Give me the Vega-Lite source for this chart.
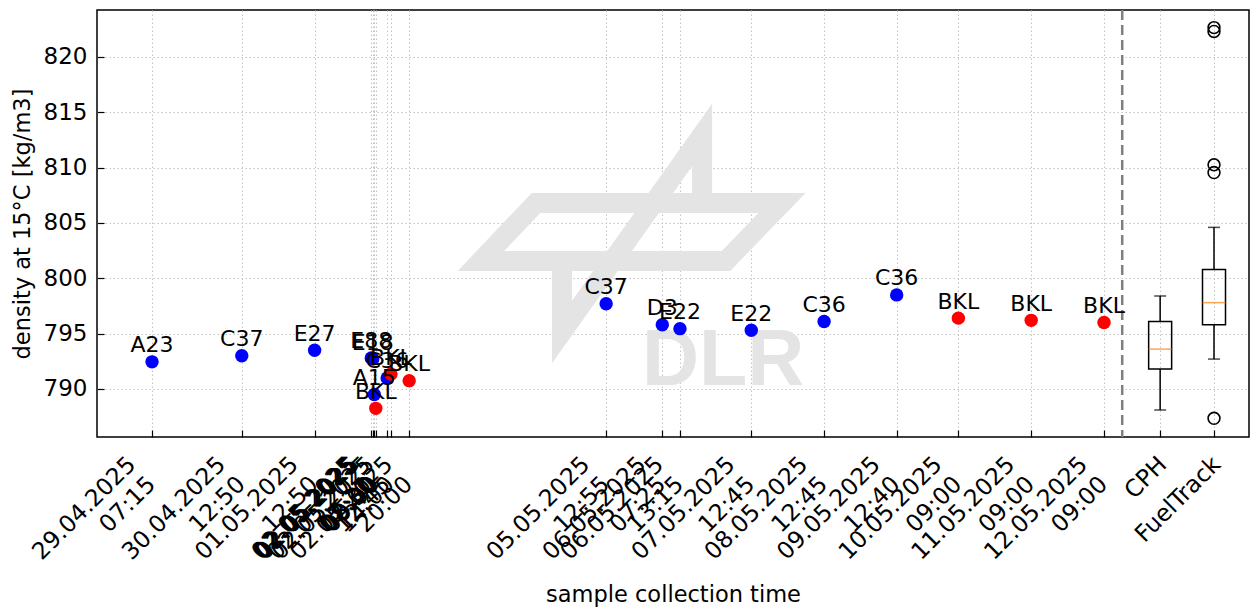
{
  "$schema": "https://vega.github.io/schema/vega-lite/v6.json",
  "width": 1152,
  "height": 427,
  "autosize": {"type": "none"},
  "padding": {"left": 97, "top": 10, "right": 1, "bottom": 171},
  "background": "white",
  "config": {
    "font": "DejaVu Sans",
    "view": {"stroke": "black", "strokeWidth": 1.5},
    "axis": {
      "domain": false,
      "grid": true,
      "gridColor": "#c4c4c4",
      "gridDash": [1.5, 2.5],
      "gridWidth": 1,
      "tickColor": "black",
      "tickWidth": 1.2,
      "tickSize": -7,
      "labelColor": "black",
      "labelFont": "DejaVu Sans",
      "labelFontSize": 23,
      "titleColor": "black",
      "titleFont": "DejaVu Sans",
      "titleFontSize": 22.5,
      "titleFontWeight": "normal",
      "labelOverlap": false,
      "labelFlush": false,
      "labelBound": false,
      "zindex": 1
    }
  },
  "datasets": {
    "samples": [
      {"time": "2025-04-29T07:15:00Z", "density": 792.45, "sample": "A23", "source": "aircraft"},
      {"time": "2025-04-30T12:50:00Z", "density": 793.0, "sample": "C37", "source": "aircraft"},
      {"time": "2025-05-01T12:50:00Z", "density": 793.5, "sample": "E27", "source": "aircraft"},
      {"time": "2025-05-02T07:30:00Z", "density": 792.8, "sample": "E88", "source": "aircraft"},
      {"time": "2025-05-02T08:00:00Z", "density": 792.7, "sample": "E18", "source": "aircraft"},
      {"time": "2025-05-02T08:30:00Z", "density": 789.5, "sample": "A15", "source": "aircraft"},
      {"time": "2025-05-02T09:00:00Z", "density": 788.25, "sample": "BKL", "source": "bulk"},
      {"time": "2025-05-02T12:45:00Z", "density": 791.0, "sample": "C36", "source": "aircraft"},
      {"time": "2025-05-02T14:00:00Z", "density": 791.35, "sample": "BKL", "source": "bulk"},
      {"time": "2025-05-02T20:00:00Z", "density": 790.75, "sample": "BKL", "source": "bulk"},
      {"time": "2025-05-05T12:55:00Z", "density": 797.7, "sample": "C37", "source": "aircraft"},
      {"time": "2025-05-06T07:25:00Z", "density": 795.8, "sample": "D3", "source": "aircraft"},
      {"time": "2025-05-06T13:15:00Z", "density": 795.45, "sample": "E22", "source": "aircraft"},
      {"time": "2025-05-07T12:45:00Z", "density": 795.3, "sample": "E22", "source": "aircraft"},
      {"time": "2025-05-08T12:45:00Z", "density": 796.1, "sample": "C36", "source": "aircraft"},
      {"time": "2025-05-09T12:40:00Z", "density": 798.5, "sample": "C36", "source": "aircraft"},
      {"time": "2025-05-10T09:00:00Z", "density": 796.4, "sample": "BKL", "source": "bulk"},
      {"time": "2025-05-11T09:00:00Z", "density": 796.2, "sample": "BKL", "source": "bulk"},
      {"time": "2025-05-12T09:00:00Z", "density": 796.0, "sample": "BKL", "source": "bulk"}
    ],
    "boxes": [
      {"group": "CPH", "time": "2025-05-13T03:30:00Z", "lower": 788.1, "q1": 791.8, "median": 793.6, "q3": 796.1, "upper": 798.4},
      {"group": "FuelTrack", "time": "2025-05-13T21:15:00Z", "lower": 792.7, "q1": 795.8, "median": 797.8, "q3": 800.8, "upper": 804.6}
    ],
    "outliers": [
      {"group": "FuelTrack", "time": "2025-05-13T21:15:00Z", "density": 787.35},
      {"group": "FuelTrack", "time": "2025-05-13T21:15:00Z", "density": 809.55},
      {"group": "FuelTrack", "time": "2025-05-13T21:15:00Z", "density": 810.25},
      {"group": "FuelTrack", "time": "2025-05-13T21:15:00Z", "density": 822.3},
      {"group": "FuelTrack", "time": "2025-05-13T21:15:00Z", "density": 822.65}
    ],
    "logo": [
      {"part": "band", "step": 1, "time": "2025-05-03T19:41:00Z", "density": 801.57},
      {"part": "band", "step": 2, "time": "2025-05-04T13:49:00Z", "density": 806.81},
      {"part": "band", "step": 3, "time": "2025-05-07T22:54:00Z", "density": 806.81},
      {"part": "band", "step": 4, "time": "2025-05-07T04:26:00Z", "density": 801.57},
      {"part": "band", "step": 5, "time": "2025-05-03T19:41:00Z", "density": 801.57},
      {"part": "band", "step": 6, "time": "2025-05-04T13:49:00Z", "density": 806.81},
      {"part": "wing", "step": 1, "time": "2025-05-06T20:32:00Z", "density": 806.81},
      {"part": "wing", "step": 2, "time": "2025-05-06T20:32:00Z", "density": 812.95},
      {"part": "wing", "step": 3, "time": "2025-05-04T22:23:00Z", "density": 795.15},
      {"part": "wing", "step": 4, "time": "2025-05-04T22:23:00Z", "density": 801.57}
    ],
    "watermark": [
      {"word": "DLR", "time": "2025-05-07T03:27:00Z", "density": 790.36}
    ],
    "divider": [
      {"time": "2025-05-12T15:00:00Z"}
    ]
  },
  "layer": [
    {
      "data": {"name": "logo"},
      "mark": {"type": "line", "color": "#e4e4e4", "strokeWidth": 20, "strokeJoin": "miter", "strokeMiterLimit": 10, "strokeCap": "butt"},
      "encoding": {
        "x": {
          "field": "time",
          "type": "temporal",
          "scale": {
            "type": "utc",
            "nice": false,
            "padding": 0,
            "domain": [
              {"year": 2025, "month": 4, "date": 28, "hours": 13, "minutes": 7, "utc": true},
              {"year": 2025, "month": 5, "date": 14, "hours": 8, "minutes": 47, "utc": true}
            ]
          },
          "axis": {
            "title": "sample collection time",
            "titleY": 164,
            "titleBaseline": "alphabetic",
            "values": [
              {"year": 2025, "month": 4, "date": 29, "hours": 7, "minutes": 15, "utc": true},
              {"year": 2025, "month": 4, "date": 30, "hours": 12, "minutes": 50, "utc": true},
              {"year": 2025, "month": 5, "date": 1, "hours": 12, "minutes": 50, "utc": true},
              {"year": 2025, "month": 5, "date": 2, "hours": 7, "minutes": 30, "utc": true},
              {"year": 2025, "month": 5, "date": 2, "hours": 8, "minutes": 0, "utc": true},
              {"year": 2025, "month": 5, "date": 2, "hours": 8, "minutes": 30, "utc": true},
              {"year": 2025, "month": 5, "date": 2, "hours": 9, "minutes": 0, "utc": true},
              {"year": 2025, "month": 5, "date": 2, "hours": 12, "minutes": 45, "utc": true},
              {"year": 2025, "month": 5, "date": 2, "hours": 14, "minutes": 0, "utc": true},
              {"year": 2025, "month": 5, "date": 2, "hours": 20, "minutes": 0, "utc": true},
              {"year": 2025, "month": 5, "date": 5, "hours": 12, "minutes": 55, "utc": true},
              {"year": 2025, "month": 5, "date": 6, "hours": 7, "minutes": 25, "utc": true},
              {"year": 2025, "month": 5, "date": 6, "hours": 13, "minutes": 15, "utc": true},
              {"year": 2025, "month": 5, "date": 7, "hours": 12, "minutes": 45, "utc": true},
              {"year": 2025, "month": 5, "date": 8, "hours": 12, "minutes": 45, "utc": true},
              {"year": 2025, "month": 5, "date": 9, "hours": 12, "minutes": 40, "utc": true},
              {"year": 2025, "month": 5, "date": 10, "hours": 9, "minutes": 0, "utc": true},
              {"year": 2025, "month": 5, "date": 11, "hours": 9, "minutes": 0, "utc": true},
              {"year": 2025, "month": 5, "date": 12, "hours": 9, "minutes": 0, "utc": true},
              {"year": 2025, "month": 5, "date": 13, "hours": 3, "minutes": 30, "utc": true},
              {"year": 2025, "month": 5, "date": 13, "hours": 21, "minutes": 15, "utc": true}
            ],
            "labelExpr": "datum.value > 1747094400000 ? (utchours(datum.value) < 12 ? 'CPH' : 'FuelTrack') : [utcFormat(datum.value, '%d.%m.%Y'), utcFormat(datum.value, '%H:%M')]",
            "labelAngle": -45,
            "labelAlign": "right",
            "labelBaseline": "top",
            "labelFontSize": 23.5,
            "labelLineHeight": 28,
            "labelPadding": 22,
            "labelOffset": {"condition": {"test": "datum.value > 1747094400000", "value": -6}, "value": -29}
          }
        },
        "y": {
          "field": "density",
          "type": "quantitative",
          "scale": {"domain": [785.66, 824.24], "nice": false, "zero": false, "padding": 0},
          "axis": {
            "title": "density at 15°C [kg/m3]",
            "values": [790, 795, 800, 805, 810, 815, 820],
            "labelPadding": 17,
            "titleX": -75,
            "titleBaseline": "middle"
          }
        },
        "detail": {"field": "part"},
        "order": {"field": "step"}
      }
    },
    {
      "data": {"name": "watermark"},
      "mark": {"type": "text", "font": "Liberation Sans", "fontWeight": "bold", "fontSize": 79, "color": "#e4e4e4", "align": "center", "baseline": "alphabetic"},
      "encoding": {
        "x": {"field": "time", "type": "temporal"},
        "y": {"field": "density", "type": "quantitative"},
        "text": {"field": "word"}
      }
    },
    {
      "data": {"name": "divider"},
      "mark": {"type": "rule", "color": "#7f7f7f", "strokeWidth": 2.5, "strokeDash": [10, 5]},
      "encoding": {
        "x": {"field": "time", "type": "temporal"}
      }
    },
    {
      "data": {"name": "samples"},
      "mark": {"type": "point", "shape": "circle", "filled": true, "size": 180, "opacity": 1},
      "encoding": {
        "x": {"field": "time", "type": "temporal"},
        "y": {"field": "density", "type": "quantitative"},
        "color": {"field": "source", "type": "nominal", "scale": {"domain": ["aircraft", "bulk"], "range": ["#0000ff", "#ff0000"]}, "legend": null}
      }
    },
    {
      "data": {"name": "samples"},
      "mark": {"type": "text", "fontSize": 22, "color": "black", "align": "center", "baseline": "alphabetic", "dy": -9.5},
      "encoding": {
        "x": {"field": "time", "type": "temporal"},
        "y": {"field": "density", "type": "quantitative"},
        "text": {"field": "sample"}
      }
    },
    {
      "data": {"name": "boxes"},
      "mark": {"type": "rule", "color": "black", "strokeWidth": 1.5},
      "encoding": {
        "x": {"field": "time", "type": "temporal"},
        "y": {"field": "q3", "type": "quantitative", "title": "density at 15°C [kg/m3]"},
        "y2": {"field": "upper"}
      }
    },
    {
      "data": {"name": "boxes"},
      "mark": {"type": "rule", "color": "black", "strokeWidth": 1.5},
      "encoding": {
        "x": {"field": "time", "type": "temporal"},
        "y": {"field": "lower", "type": "quantitative", "title": "density at 15°C [kg/m3]"},
        "y2": {"field": "q1"}
      }
    },
    {
      "data": {"name": "boxes"},
      "mark": {"type": "bar", "filled": false, "color": "black", "strokeWidth": 1.5, "size": 23},
      "encoding": {
        "x": {"field": "time", "type": "temporal"},
        "y": {"field": "q1", "type": "quantitative", "title": "density at 15°C [kg/m3]"},
        "y2": {"field": "q3"}
      }
    },
    {
      "data": {"name": "boxes"},
      "mark": {"type": "tick", "orient": "horizontal", "color": "black", "size": 12, "thickness": 1.5},
      "encoding": {
        "x": {"field": "time", "type": "temporal"},
        "y": {"field": "upper", "type": "quantitative", "title": "density at 15°C [kg/m3]"}
      }
    },
    {
      "data": {"name": "boxes"},
      "mark": {"type": "tick", "orient": "horizontal", "color": "black", "size": 12, "thickness": 1.5},
      "encoding": {
        "x": {"field": "time", "type": "temporal"},
        "y": {"field": "lower", "type": "quantitative", "title": "density at 15°C [kg/m3]"}
      }
    },
    {
      "data": {"name": "boxes"},
      "mark": {"type": "tick", "orient": "horizontal", "color": "#ff7f0e", "size": 23, "thickness": 1.5},
      "encoding": {
        "x": {"field": "time", "type": "temporal"},
        "y": {"field": "median", "type": "quantitative", "title": "density at 15°C [kg/m3]"}
      }
    },
    {
      "data": {"name": "outliers"},
      "mark": {"type": "point", "shape": "circle", "filled": false, "color": "black", "size": 140, "strokeWidth": 1.6, "opacity": 1},
      "encoding": {
        "x": {"field": "time", "type": "temporal"},
        "y": {"field": "density", "type": "quantitative"}
      }
    }
  ]
}
